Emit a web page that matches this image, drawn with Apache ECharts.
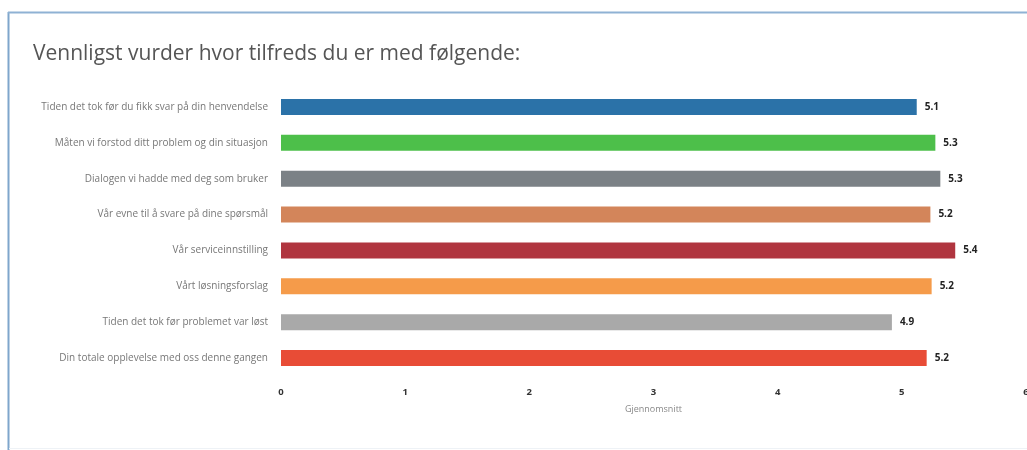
<!DOCTYPE html>
<html><head><meta charset="utf-8">
<script src="https://cdn.jsdelivr.net/npm/echarts@6/dist/echarts.min.js"></script>
<style>html,body{margin:0;padding:0;background:#fff}#c{width:1027px;height:450px}</style>
</head><body><div id="c"></div>
<script>
const title = 'Vennligst vurder hvor tilfreds du er med følgende:';
const categories = [
  'Tiden det tok før du fikk svar på din henvendelse',
  'Måten vi forstod ditt problem og din situasjon',
  'Dialogen vi hadde med deg som bruker',
  'Vår evne til å svare på dine spørsmål',
  'Vår serviceinnstilling',
  'Vårt løsningsforslag',
  'Tiden det tok før problemet var løst',
  'Din totale opplevelse med oss denne gangen'
];
const values = [5.12, 5.27, 5.31, 5.23, 5.43, 5.24, 4.92, 5.20];
const colors = ['#2b72a8', '#4dbf4a', '#7b8186', '#d3855a', '#b0353f', '#f59b4a', '#a9a9a9', '#e84c36'];
const axisName = 'Gjennomsnitt';

const chart = echarts.init(document.getElementById('c'), null, {renderer: 'canvas'});
chart.setOption({
  animation: false,
  backgroundColor: '#fff',
  graphic: [
    {type: 'line', shape: {x1: 8.5, y1: 12, x2: 8.5, y2: 450}, style: {stroke: '#7fa6cc', lineWidth: 2}},
    {type: 'line', shape: {x1: 8, y1: 12.5, x2: 1027, y2: 12.5}, style: {stroke: '#8fb2d4', lineWidth: 2}},
    {type: 'line', shape: {x1: 9, y1: 448.5, x2: 1027, y2: 448.5}, style: {stroke: '#eef2f6', lineWidth: 1}}
  ],
  title: {
    text: title, left: 28, top: 39,
    textStyle: {fontFamily: 'Open Sans', fontSize: 21, fontWeight: 'normal', color: '#555'}
  },
  grid: {left: 281, right: 1, top: 89, height: 287, containLabel: false, outerBoundsMode: 'none'},
  xAxis: {
    type: 'value', min: 0, max: 6, interval: 1,
    name: axisName, nameLocation: 'middle', nameGap: 29,
    nameTextStyle: {fontFamily: 'Open Sans', fontSize: 9, color: '#888'},
    axisLine: {show: false}, axisTick: {show: false}, splitLine: {show: false},
    axisLabel: {margin: 11, fontFamily: 'Open Sans', fontSize: 9.5, fontWeight: 'bold', color: '#333'}
  },
  yAxis: {
    type: 'category', data: categories, inverse: true,
    axisLine: {show: false}, axisTick: {show: false},
    axisLabel: {margin: 13, fontFamily: 'Open Sans', fontSize: 10, color: '#777'}
  },
  series: [{
    type: 'bar', data: values.map((v, i) => ({value: v, itemStyle: {color: colors[i]}})),
    barWidth: 16,
    label: {
      show: true, position: 'right', distance: 8,
      formatter: p => p.value.toFixed(1),
      fontFamily: 'Open Sans', fontSize: 10, fontWeight: 'bold', color: '#222'
    }
  }]
});
</script></body></html>
